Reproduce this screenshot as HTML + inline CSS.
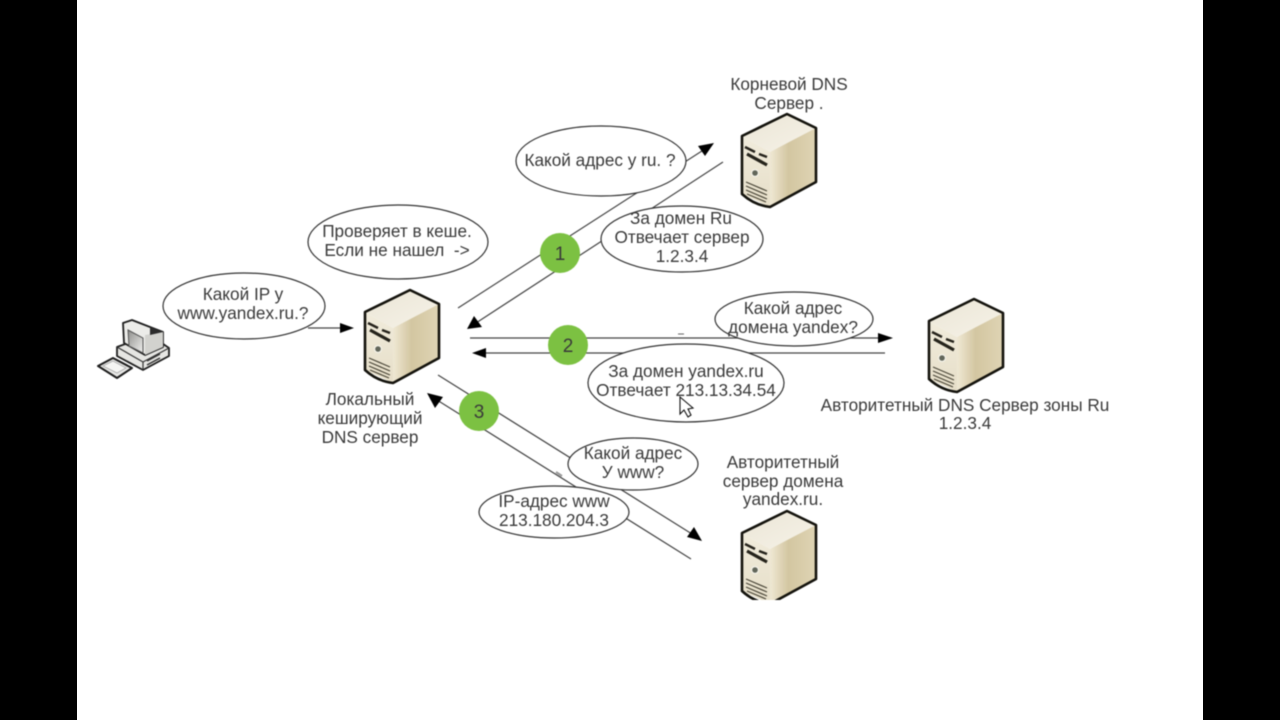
<!DOCTYPE html>
<html><head><meta charset="utf-8"><style>
html,body{margin:0;padding:0;background:#000;width:1280px;height:720px;overflow:hidden}
#page{position:absolute;left:77px;top:0;width:1126px;height:720px;background:#fff}
svg{display:block;position:absolute;left:0;top:0}
#c{filter:blur(.45px)}
text{font-family:"Liberation Sans",sans-serif;font-size:17.2px;fill:#3a3a3a;text-anchor:middle}
</style></head><body>
<div id="page"></div>
<svg width="1280" height="720" viewBox="0 0 1280 720" xmlns="http://www.w3.org/2000/svg">
<defs>
<linearGradient id="f" x1="0" y1="0" x2="0" y2="1"><stop offset="0" stop-color="#f1ecdc"/><stop offset="1" stop-color="#e6dec8"/></linearGradient>
<linearGradient id="r" x1="0" y1="0" x2="1" y2="0"><stop offset="0" stop-color="#efe8d4"/><stop offset=".4" stop-color="#d3c6a1"/><stop offset="1" stop-color="#dfd4b4"/></linearGradient>
<linearGradient id="t" x1="0" y1="0" x2="1" y2="1"><stop offset="0" stop-color="#ebe6d6"/><stop offset="1" stop-color="#f6f2e8"/></linearGradient>
<linearGradient id="scr" x1="0" y1="0" x2="1" y2="1"><stop offset="0" stop-color="#8f8f8c"/><stop offset="1" stop-color="#f0f0ee"/></linearGradient>
<clipPath id="cl"><rect x="77" y="0" width="1126" height="600"/></clipPath>
<g id="srv">
<path d="M0 22L45 0L74 14L28 38Z" fill="url(#t)"/>
<path d="M0 22L28 38V93L0 80Z" fill="url(#f)"/>
<path d="M28 38L74 14V68L28 93Z" fill="url(#r)"/>
<path d="M0 22L45 0L74 14V68L28 93Q12 91 0 80Z" fill="none" stroke="#14130d" stroke-width="2.6" stroke-linejoin="round"/>
<path d="M3 33L13 38M17 40L25 43" stroke="#25231b" stroke-width="2.4"/>
<path d="M5 40L25 51" stroke="#25231b" stroke-width="3.2"/>
<circle cx="13" cy="59" r="3.4" fill="#62665a" stroke="#f5f3ea" stroke-width="1.2"/>
<path d="M4 68L25 77M4 72L25 81M4 76L25 85M5 80L24 88" stroke="#4a4638" stroke-width="1.2"/>
</g>
</defs>
<g id="c">
<g stroke="#444" stroke-width="1.2" fill="none">
<line x1="458" y1="308" x2="705" y2="149"/>
<line x1="723" y1="162" x2="476" y2="323"/>
<line x1="470" y1="338" x2="880" y2="338"/>
<line x1="885" y1="353" x2="484" y2="353"/>
<line x1="438" y1="375" x2="692" y2="534"/>
<line x1="691" y1="559" x2="437" y2="400"/>
<line x1="308" y1="328" x2="342" y2="328"/>
</g>
<g fill="#000">
<path d="M714 143L698 146L705 156Z"/>
<path d="M467 329L474 316L482 327Z"/>
<path d="M893 338L878 333V343Z"/>
<path d="M472 353L486 348V358Z"/>
<path d="M702 541L687 537L694 527Z"/>
<path d="M427 393L443 397L435 408Z"/>
<path d="M354 328L340 323V333Z"/>
</g>
<path d="M678 334H684" stroke="#666" stroke-width="1"/>
<path d="M556 472L562 476" stroke="#999" stroke-width="2"/>

<g fill="#fff" stroke="#333" stroke-width="1.2">
<ellipse cx="601" cy="161" rx="85" ry="35"/>
<ellipse cx="682" cy="239" rx="81" ry="33"/>
<ellipse cx="398" cy="242" rx="90" ry="37"/>
<ellipse cx="244" cy="306" rx="81" ry="33"/>
<ellipse cx="794" cy="319" rx="79" ry="27"/>
<ellipse cx="686" cy="383" rx="98" ry="39"/>
<ellipse cx="633" cy="464" rx="65" ry="26"/>
<ellipse cx="554" cy="512" rx="75" ry="26"/>
</g>
<g fill="#7cc142"><circle cx="560" cy="253" r="20"/><circle cx="568" cy="345" r="20"/><circle cx="479" cy="411" r="20"/></g>
<text x="560" y="260" style="font-size:19px">1</text>
<text x="568" y="352" style="font-size:19px">2</text>
<text x="479" y="418" style="font-size:19px">3</text>

<text x="600" y="166">Какой адрес у ru. ?</text>
<text x="681" y="224">За домен Ru</text>
<text x="682" y="243">Отвечает сервер</text>
<text x="682" y="262">1.2.3.4</text>
<text x="397" y="237">Проверяет в кеше.</text>
<text x="397" y="256">Если не нашел&#160;&#160;-&gt;</text>
<text x="243" y="300">Какой IP у</text>
<text x="243" y="319">www.yandex.ru.?</text>
<text x="793" y="314">Какой адрес</text>
<text x="793" y="333">домена yandex?</text>
<text x="686" y="377">За домен yandex.ru</text>
<text x="686" y="396">Отвечает 213.13.34.54</text>
<text x="633" y="459">Какой адрес</text>
<text x="633" y="478">У www?</text>
<text x="554" y="507">IP-адрес www</text>
<text x="554" y="526">213.180.204.3</text>
<text x="789" y="90">Корневой DNS</text>
<text x="789" y="109">Сервер .</text>
<text x="370" y="405">Локальный</text>
<text x="370" y="424">кеширующий</text>
<text x="370" y="443">DNS сервер</text>
<text x="965" y="411">Авторитетный DNS Сервер зоны Ru</text>
<text x="965" y="429">1.2.3.4</text>
<text x="783" y="468">Авторитетный</text>
<text x="783" y="487">сервер домена</text>
<text x="783" y="505">yandex.ru.</text>

<use href="#srv" x="365" y="290"/>
<use href="#srv" x="742" y="114"/>
<use href="#srv" x="929" y="299"/>
<g clip-path="url(#cl)"><use href="#srv" x="742" y="511"/></g>

<!-- computer -->
<path d="M117 347L150 335L169 348V356L143 370L117 356Z" fill="#e6e6e3" stroke="#1e1e1e" stroke-width="1.8" stroke-linejoin="round"/>
<path d="M117 347L143 362L169 348" fill="none" stroke="#333" stroke-width="1.2"/>
<path d="M143 362V370" stroke="#333" stroke-width="1.2"/>
<path d="M147 361L160 354M147 365L160 358" stroke="#333" stroke-width="1.5"/>
<path d="M123 323L132 320L150 327L163 332V347L145 355L124 343Z" fill="#ecece9" stroke="#1e1e1e" stroke-width="1.8" stroke-linejoin="round"/>
<path d="M145 335L163 332V347L145 355Z" fill="#d2d2ce"/>
<path d="M150 327L163 332L150 335Z" fill="#2c2c2c"/>
<path d="M128 330L143 338V353L129 346Z" fill="url(#scr)" stroke="#555" stroke-width="1"/>
<path d="M98 366L113 358L132 368L117 378Z" fill="#e8e8e6" stroke="#1e1e1e" stroke-width="2" stroke-linejoin="round"/>
<path d="M103 366L113 361L126 368L117 373Z" fill="#f6f6f4" stroke="#aaa" stroke-width=".8"/>

<!-- cursor -->
<path d="M680 397V414L684 410L688 417L691 415L688 409L693 408Z" fill="#fff" stroke="#111" stroke-width="1.1"/>
</g>
</svg>
</body></html>
